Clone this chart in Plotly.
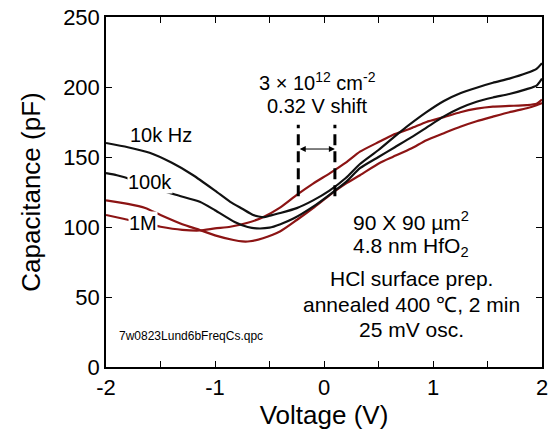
import plotly.graph_objects as go

# ---------------- data ----------------
v_10k = [-2.0, -1.8, -1.6, -1.4, -1.2, -1.0, -0.86, -0.75, -0.65, -0.6, -0.55, -0.5, -0.4, -0.25, -0.1, 0.05, 0.2, 0.33, 0.5, 0.7, 0.94, 1.1, 1.25, 1.4, 1.55, 1.7, 1.86, 1.95, 2.0]
c_10k = [160, 157, 153, 146, 137, 126, 118, 113, 108.5, 107.5, 107, 108, 110, 113.5, 119, 126, 135, 145, 155, 168, 182, 190, 195.5, 199.5, 203, 206, 210, 213, 217]

v_100k = [-2.0, -1.9, -1.83, -1.6, -1.36, -1.14, -1.0, -0.82, -0.7, -0.62, -0.5, -0.4, -0.28, -0.1, 0.05, 0.2, 0.33, 0.5, 0.65, 0.8, 0.94, 1.1, 1.25, 1.4, 1.55, 1.7, 1.86, 1.95, 2.0]
c_100k = [138.5, 137, 135.5, 129, 123, 118, 112, 103.6, 100, 99, 99.5, 102, 106, 114.5, 123, 132, 142, 150, 157, 164, 171, 179, 185, 189.5, 192.5, 195, 198.5, 201, 206]

v_1m_a = [-2.0, -1.8, -1.64, -1.5, -1.3, -1.14, -1.0, -0.83, -0.75, -0.68, -0.56, -0.4, -0.25, -0.1, 0.055, 0.2, 0.33, 0.51, 0.63, 0.8, 0.94, 1.1, 1.25, 1.4, 1.55, 1.7, 1.86, 1.95, 2.0]
c_1m_a = [119, 116.5, 113.6, 108.6, 102, 97.9, 94, 90.7, 89.7, 89.8, 92, 97, 105, 113.5, 123, 131, 137, 145.7, 150, 156, 162, 167, 171.6, 175.5, 178.8, 182, 184.8, 187, 188.5]

v_1m_b = [-2.0, -1.83, -1.5, -1.3, -1.14, -1.0, -0.86, -0.7, -0.56, -0.4, -0.25, -0.1, 0.055, 0.2, 0.33, 0.51, 0.63, 0.8, 0.94, 1.1, 1.25, 1.4, 1.55, 1.7, 1.86, 1.95, 2.0]
c_1m_b = [108.6, 105.7, 100.2, 98, 97.5, 99, 100.2, 103, 107, 114, 122.9, 131, 138.5, 146, 153.8, 161, 165.7, 170.5, 175, 178.5, 182, 184.5, 186, 186.5, 187, 188, 191]

x_ticks = [-2, -1.5, -1, -0.5, 0, 0.5, 1, 1.5, 2]
x_ticktext = ['-2', '', '-1', '', '0', '', '1', '', '2']
y_ticks = [0, 50, 100, 150, 200, 250]

shift_v = [-0.236, 0.10]      # dashed marker voltages
shift_c = [122, 173]          # vertical extent of dashed markers
arrow_c = 155.7

info_lines = ["90 X 90 \u00b5m<sup>2</sup>", "4.8 nm HfO<sub>2</sub>", "HCl surface prep.",
              "annealed 400 \u2103, 2 min", "25 mV osc."]
info_c = [104, 86, 63, 45, 27]

BLACK = "#111111"
RED = "#8c1414"
FONT = "Liberation Sans, Arial, Helvetica, sans-serif"

fig = go.Figure()
for v, c, col in [(v_1m_a, c_1m_a, RED), (v_1m_b, c_1m_b, RED),
                  (v_100k, c_100k, BLACK), (v_10k, c_10k, BLACK)]:
    fig.add_trace(go.Scatter(x=v, y=c, mode="lines", line=dict(color=col, width=2.2, shape="spline", smoothing=0.6),
                             showlegend=False, hoverinfo="skip"))

# dashed shift markers
for sv in shift_v:
    fig.add_trace(go.Scatter(x=[sv, sv], y=shift_c, mode="lines",
                             line=dict(color="black", width=3, dash="11px,6px"),
                             showlegend=False, hoverinfo="skip"))

ann = []
ann.append(dict(x=-1.50, y=165.5, text="10k Hz", showarrow=False, font=dict(size=20, color="black", family=FONT)))
ann.append(dict(x=-1.60, y=132, text="100k", showarrow=False, bgcolor="white", borderpad=0,
                font=dict(size=20, color="black", family=FONT)))
ann.append(dict(x=-1.66, y=103, text="1M", showarrow=False, bgcolor="white", borderpad=0,
                font=dict(size=20, color="black", family=FONT)))
ann.append(dict(x=-0.06, y=204, text="3 \u00d7 10<sup>12</sup> cm<sup>-2</sup>", showarrow=False,
                font=dict(size=20, color="black", family=FONT)))
ann.append(dict(x=-0.06, y=186.5, text="0.32 V shift", showarrow=False,
                font=dict(size=20, color="black", family=FONT)))
ann.append(dict(x=shift_v[1], y=arrow_c, ax=shift_v[0], ay=arrow_c, xref="x", yref="y", axref="x", ayref="y",
                text="", showarrow=True, arrowhead=2, startarrowhead=2, arrowside="end+start",
                arrowsize=1.2, startarrowsize=1.2, arrowwidth=1, arrowcolor="black", standoff=0, startstandoff=0))
for t, c in zip(info_lines, info_c):
    ann.append(dict(x=0.80, y=c, text=t, showarrow=False, font=dict(size=21, color="black", family=FONT)))
ann.append(dict(x=-1.90, y=22, text="7w0823Lund6bFreqCs.qpc", xanchor="left", showarrow=False,
                font=dict(size=12, color="black", family=FONT)))

fig.update_layout(
    width=555, height=438,
    margin=dict(l=106, r=13, t=17, b=71),
    plot_bgcolor="white", paper_bgcolor="white",
    font=dict(family=FONT, color="black"),
    annotations=ann,
    xaxis=dict(range=[-2, 2], tickvals=x_ticks, ticktext=x_ticktext, ticks="inside", ticklen=6,
               tickwidth=1, tickcolor="black", showline=True, linecolor="black", linewidth=1.5,
               mirror="ticks", showgrid=False, zeroline=False, tickfont=dict(size=22), automargin=False,
               title=dict(text="Voltage (V)", font=dict(size=26), standoff=7)),
    yaxis=dict(range=[0, 250], tickvals=y_ticks, ticks="inside", ticklen=6,
               tickwidth=1, tickcolor="black", showline=True, linecolor="black", linewidth=1.5,
               mirror="ticks", showgrid=False, zeroline=False, tickfont=dict(size=22), automargin=False,
               title=dict(text="Capacitance (pF)", font=dict(size=26), standoff=15)),
)

fig.write_html("out.html")
